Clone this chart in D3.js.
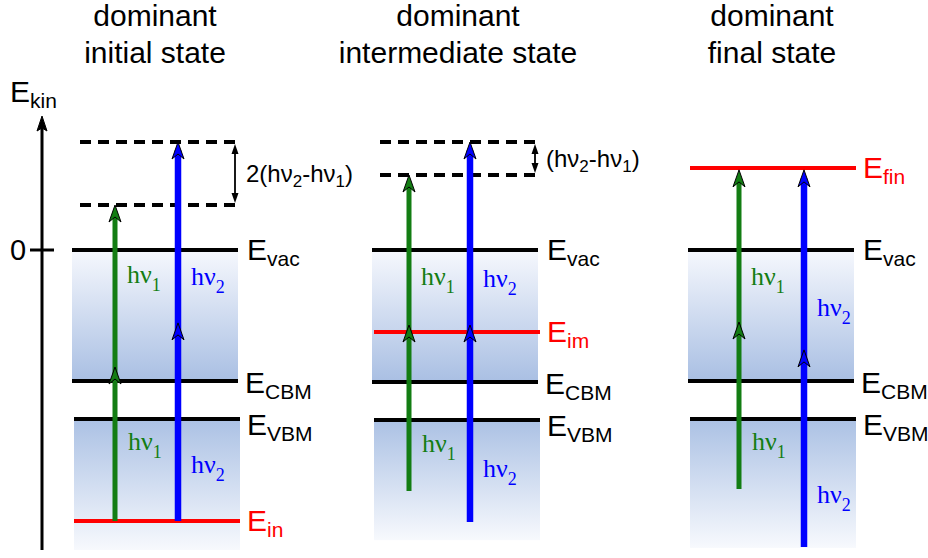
<!DOCTYPE html>
<html>
<head>
<meta charset="utf-8">
<script src="https://cdn.jsdelivr.net/npm/d3@7"></script>
<style>
  body { margin: 0; background: #fff; }
  svg { display: block; font-family: "Liberation Sans", Arial, sans-serif; }
  .hv { font-family: "Liberation Serif", "Times New Roman", serif; }
</style>
</head>
<body>
<svg id="chart" width="928" height="558"></svg>
<script>
'use strict';

// ---- data (energies in arbitrary units, E_vac = 0) ----
var titlesTop = ['dominant', 'dominant', 'dominant'];
var titlesBottom = ['initial state', 'intermediate state', 'final state'];

var vacLevel = [0, 0, 0];
var cbmLevel = [-4.37, -4.4, -4.37];
var vbmLevel = [-5.63, -5.67, -5.63];
var bandBottom = [-10, -9.67, -9.93];

var stateLevel = [-9.03, -2.73, 2.73];
var stateName = ['in', 'im', 'fin'];

var dashedLevels = [[3.6, 1.5], [3.6, 2.5], []];
var gapPrefix = ['2(', '(', null];

var hv1Arrow = [[-9.03, 1.5], [-8.03, 2.5], [-7.97, 2.67]];   // [start, end]
var hv2Arrow = [[-9.03, 3.6], [-9.07, 3.6], [-9.9, 2.67]];
var hv1MidHead = [-3.9, -2.5, -2.4];
var hv2MidHead = [-2.43, -2.5, -3.33];

var hv1LabelUpper = [-1.1, -1.17, -1.17];
var hv1LabelLower = [-6.67, -6.73, -6.67];
var hv2LabelUpper = [-1.17, -1.23, -2.2];
var hv2LabelLower = [-7.43, -7.57, -8.43];

var axisDomain = [-10, 4.5];

// ---- layout ----
var panelLeft = [72, 372, 688];
var panelWidth = 166;
var arrowOffsets = [[43, 106], [37, 98], [51, 116]];
var titleCenter = [155, 458, 772];

var GREEN = '#137d13', BLUE = '#0000ff', RED = '#ff0000';

var svg = d3.select('#chart');

var y = d3.scaleLinear().domain(axisDomain).range([550, 115]);

// gradients for the band areas
var defs = svg.append('defs');
var gCB = defs.append('linearGradient').attr('id', 'cbGrad')
  .attr('x1', 0).attr('y1', 0).attr('x2', 0).attr('y2', 1);
gCB.append('stop').attr('offset', '0%').attr('stop-color', '#f6f8fd');
gCB.append('stop').attr('offset', '100%').attr('stop-color', '#a9bfe3');
var gVB = defs.append('linearGradient').attr('id', 'vbGrad')
  .attr('x1', 0).attr('y1', 0).attr('x2', 0).attr('y2', 1);
gVB.append('stop').attr('offset', '0%').attr('stop-color', '#abc1e4');
gVB.append('stop').attr('offset', '100%').attr('stop-color', '#f7f9fd');

// ---- energy axis ----
var axis = svg.append('g');
axis.append('line')
  .attr('x1', 42).attr('x2', 42)
  .attr('y1', y(axisDomain[0])).attr('y2', y(axisDomain[1]) + 10)
  .attr('stroke', '#000').attr('stroke-width', 3);
axis.append('path')
  .attr('d', 'M0,0 L5,15 L0,12 L-5,15 Z')
  .attr('transform', 'translate(42,' + (y(axisDomain[1]) + 1) + ')')
  .attr('fill', '#000').attr('stroke', '#000').attr('stroke-width', 1);
axis.append('line')
  .attr('x1', 30).attr('x2', 54)
  .attr('y1', y(0)).attr('y2', y(0))
  .attr('stroke', '#000').attr('stroke-width', 3);
axis.append('text')
  .attr('x', 18).attr('y', y(0) + 10)
  .attr('text-anchor', 'middle').attr('font-size', 29)
  .text('0');
var ek = axis.append('text').attr('x', 10).attr('y', 102).attr('font-size', 30);
ek.append('tspan').text('E');
ek.append('tspan').attr('font-size', 21).attr('dy', 6).text('kin');

// helpers
function subLabel(g, x, yy, main, sub, color) {
  var t = g.append('text').attr('x', x).attr('y', yy)
    .attr('font-size', 30).attr('fill', color);
  t.append('tspan').text(main);
  t.append('tspan').attr('font-size', 21).attr('dy', 6).text(sub);
}

function hvLabel(g, x, yy, idx, color) {
  var t = g.append('text').attr('class', 'hv').attr('x', x).attr('y', yy)
    .attr('font-size', 26).attr('fill', color);
  t.append('tspan').text('hν');
  t.append('tspan').attr('font-size', 18).attr('dy', 8).text(idx);
}

function head(g, x, yy, color) {
  g.append('path')
    .attr('d', 'M0,0 L6,17 L0,12 L-6,17 Z')
    .attr('transform', 'translate(' + x + ',' + yy + ')')
    .attr('fill', color).attr('stroke', '#000').attr('stroke-width', 1)
    .attr('stroke-linejoin', 'miter');
}

function photonArrow(g, x, e, mid, color, width) {
  g.append('line')
    .attr('x1', x).attr('x2', x)
    .attr('y1', y(e[0])).attr('y2', y(e[1]) + 8)
    .attr('stroke', color).attr('stroke-width', width);
  head(g, x, y(e[1]), color);
  head(g, x, y(mid), color);
}

function level(g, x1, x2, e, color) {
  g.append('line')
    .attr('x1', x1).attr('x2', x2)
    .attr('y1', y(e)).attr('y2', y(e))
    .attr('stroke', color).attr('stroke-width', 4);
}

// ---- panels ----
panelLeft.forEach(function(left, i) {
  var right = left + panelWidth;
  var g = svg.append('g').attr('class', 'panel');

  // titles
  g.append('text').attr('x', titleCenter[i]).attr('y', 26)
    .attr('text-anchor', 'middle').attr('font-size', 30).text(titlesTop[i]);
  g.append('text').attr('x', titleCenter[i]).attr('y', 63)
    .attr('text-anchor', 'middle').attr('font-size', 30).text(titlesBottom[i]);

  // band areas
  g.append('rect')
    .attr('x', left).attr('width', panelWidth)
    .attr('y', y(vacLevel[i])).attr('height', y(cbmLevel[i]) - y(vacLevel[i]))
    .attr('fill', 'url(#cbGrad)');
  g.append('rect')
    .attr('x', left + 2).attr('width', panelWidth)
    .attr('y', y(vbmLevel[i])).attr('height', y(bandBottom[i]) - y(vbmLevel[i]))
    .attr('fill', 'url(#vbGrad)');

  // dashed virtual levels
  dashedLevels[i].forEach(function(e) {
    g.append('line')
      .attr('x1', left + 8).attr('x2', right + 1)
      .attr('y1', y(e)).attr('y2', y(e))
      .attr('stroke', '#000').attr('stroke-width', 4)
      .attr('stroke-dasharray', '11,7');
  });

  // level lines
  level(g, left, right, vacLevel[i], '#000');
  level(g, left, right, cbmLevel[i], '#000');
  level(g, left + 2, right + 2, vbmLevel[i], '#000');
  level(g, left + 2, right + 2, stateLevel[i], RED);

  // photon arrows
  var xg = left + arrowOffsets[i][0];
  var xb = left + arrowOffsets[i][1];
  photonArrow(g, xg, hv1Arrow[i], hv1MidHead[i], GREEN, 5);
  photonArrow(g, xb, hv2Arrow[i], hv2MidHead[i], BLUE, 6.5);

  hvLabel(g, xg + 12, y(hv1LabelUpper[i]), '1', GREEN);
  hvLabel(g, xg + 13, y(hv1LabelLower[i]), '1', GREEN);
  hvLabel(g, xb + 13, y(hv2LabelUpper[i]), '2', BLUE);
  hvLabel(g, xb + 13, y(hv2LabelLower[i]), '2', BLUE);

  // level labels
  var lx = right + 9;
  subLabel(g, lx, y(vacLevel[i]) + 10, 'E', 'vac', '#000');
  subLabel(g, lx - 2, y(cbmLevel[i]) + 12, 'E', 'CBM', '#000');
  subLabel(g, lx, y(vbmLevel[i]) + 16, 'E', 'VBM', '#000');
  subLabel(g, lx, y(stateLevel[i]) + 10, 'E', stateName[i], RED);

  // energy difference marker between dashed levels
  if (gapPrefix[i]) {
    var top = y(dashedLevels[i][0]), bot = y(dashedLevels[i][1]);
    var xa = right - 3;
    g.append('line')
      .attr('x1', xa).attr('x2', xa)
      .attr('y1', top + 6).attr('y2', bot - 6)
      .attr('stroke', '#000').attr('stroke-width', 1.8);
    g.append('path').attr('d', 'M0,0 L3.5,10 L-3.5,10 Z')
      .attr('transform', 'translate(' + xa + ',' + (top + 2) + ')');
    g.append('path').attr('d', 'M0,0 L3.5,-10 L-3.5,-10 Z')
      .attr('transform', 'translate(' + xa + ',' + (bot - 2) + ')');
    var t = g.append('text')
      .attr('x', right + 8).attr('y', (top + bot) / 2 + 8)
      .attr('font-size', 24);
    t.append('tspan').text(gapPrefix[i] + 'hν');
    t.append('tspan').attr('font-size', 17).attr('dy', 5).text('2');
    t.append('tspan').attr('dy', -5).text('-hν');
    t.append('tspan').attr('font-size', 17).attr('dy', 5).text('1');
    t.append('tspan').attr('dy', -5).text(')');
  }
});
</script>
</body>
</html>
